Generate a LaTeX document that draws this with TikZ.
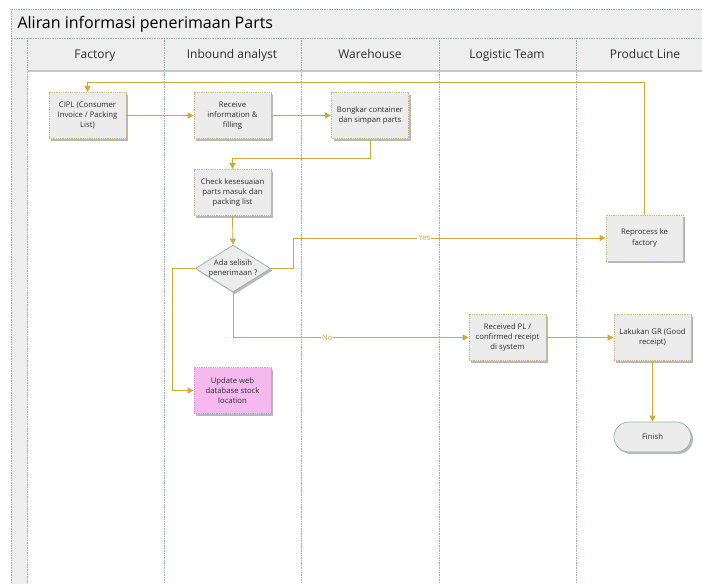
\documentclass[tikz,border=0pt]{standalone}
\usepackage{fontspec}
\setmainfont{Open Sans}
\usetikzlibrary{shapes.geometric,arrows.meta,shadows}

\definecolor{flowgold}{RGB}{205,170,60}
\definecolor{boxfill}{RGB}{236,236,236}
\definecolor{boxedge}{RGB}{200,185,140}
\definecolor{pinkfill}{RGB}{245,185,238}
\definecolor{pinkedge}{RGB}{215,150,205}
\definecolor{laneline}{RGB}{150,178,170}
\definecolor{bandfill}{RGB}{238,238,238}
\definecolor{inktext}{RGB}{45,45,45}

\tikzset{
  flow/.style={draw=flowgold, line width=0.9pt, -{Triangle[length=6pt,width=6pt]}},
  proc/.style={draw=boxedge, densely dotted, line width=0.8pt, fill=boxfill,
    minimum width=77pt, minimum height=46pt, align=center,
    inner sep=2pt, text=inktext, font=\fontsize{7.7}{10.2}\selectfont,
    drop shadow={shadow xshift=2pt, shadow yshift=-2pt, fill=black!28, opacity=1}},
  pinkproc/.style={proc, fill=pinkfill, draw=pinkedge},
  decision/.style={diamond, aspect=1.6, draw=laneline, line width=0.7pt, fill=boxfill,
    minimum width=75pt, minimum height=47pt, inner sep=-3pt, align=center,
    text=inktext, font=\fontsize{7.7}{10.2}\selectfont,
    drop shadow={shadow xshift=2pt, shadow yshift=-2pt, fill=black!28, opacity=1}},
  terminal/.style={draw=laneline, line width=0.7pt, fill=boxfill, rounded corners=15pt,
    minimum width=77pt, minimum height=30pt, text=inktext, font=\fontsize{7.7}{10}\selectfont,
    drop shadow={shadow xshift=2pt, shadow yshift=-2pt, fill=black!28, opacity=1}},
  lane/.style={draw=laneline, densely dotted, line width=0.7pt},
  lanehead/.style={anchor=base, text=inktext, font=\fontsize{12}{14}\selectfont},
  lbl/.style={fill=white, text=flowgold, inner sep=1pt, font=\fontsize{7.7}{9}\selectfont},
}

\begin{document}
\begin{tikzpicture}[x=1pt, y=-1pt]
  \useasboundingbox (0,0) rectangle (702,584);
  \begin{scope}
    \clip (0,0) rectangle (702,584);
    % pool frame: title band, lane header row, left strip
    \fill[white] (11,9) rectangle (720,600);
    \filldraw[fill=bandfill, lane] (11,9) rectangle (720,38);
    \filldraw[fill=bandfill, lane] (11,38) rectangle (27,600);
    \filldraw[fill=bandfill, lane] (27,38) rectangle (720,70);
    \fill[black!22] (27,70) rectangle (720,72);
    % lane separators
    \foreach \lx in {164,301,439,576} {
      \draw[lane] (\lx,38) -- (\lx,600);
    }
    \node[anchor=west, text=black, font=\fontsize{16}{19}\selectfont] (title) at (14,24) {Aliran informasi penerimaan Parts};
    \node[lanehead] (hfac) at (95,58) {Factory};
    \node[lanehead] (hinb) at (232,58) {Inbound analyst};
    \node[lanehead] (hwh)  at (370,58) {Warehouse};
    \node[lanehead] (hlog) at (507,58) {Logistic Team};
    \node[lanehead] (hpl)  at (645,58) {Product Line};
  \end{scope}

  % process steps
  \node[proc] (cipl) at (87.5,115.5) {CIPL (Consumer\\Invoice / Packing\\List)};
  \node[proc] (recv) at (232.5,115.5) {Receive\\information \&\\filling};
  \node[proc] (bong) at (370,115.5) {Bongkar container\\dan simpan parts};
  \node[proc] (chk)  at (232.5,192.5) {Check kesesuaian\\parts masuk dan\\packing list};
  \node[decision] (dec) at (233,268.5) {Ada selisih\\penerimaan ?};
  \node[pinkproc] (upd) at (232.5,390.5) {Update web\\database stock\\location};
  \node[proc] (rep)  at (644.5,238) {Reprocess ke\\factory};
  \node[proc] (rpl)  at (507.5,337.5) {Received PL /\\confirmed receipt\\di system};
  \node[proc] (gr)   at (652.5,337.5) {Lakukan GR (Good\\receipt)};
  \node[terminal] (fin) at (652.5,437) {Finish};

  % routing helpers
  \coordinate (topturn) at (0,82);
  \coordinate (midturn) at (0,158);
  \coordinate (yesx) at (293,0);
  \coordinate (leftx) at (172,0);

  % connectors
  \draw[flow] (rep.north) -- (rep.north |- topturn) -| (cipl.north);
  \draw[flow] (cipl.east) -- (recv.west);
  \draw[flow] (recv.east) -- (bong.west);
  \draw[flow] (bong.south) -- (bong.south |- midturn) -| (chk.north);
  \draw[flow] (chk.south) -- (dec.north);
  \draw[flow] (dec.east) -- (yesx |- dec.east) |- node[lbl, pos=0.71] {Yes} (rep.west);
  \draw[flow] (dec.west) -- (leftx |- dec.west) |- (upd.west);
  \draw[flow] (dec.south) |- node[lbl, pos=0.70] {No} (rpl.west);
  \draw[flow] (rpl.east) -- (gr.west);
  \draw[flow] (gr.south) -- (fin.north);
\end{tikzpicture}
\end{document}
